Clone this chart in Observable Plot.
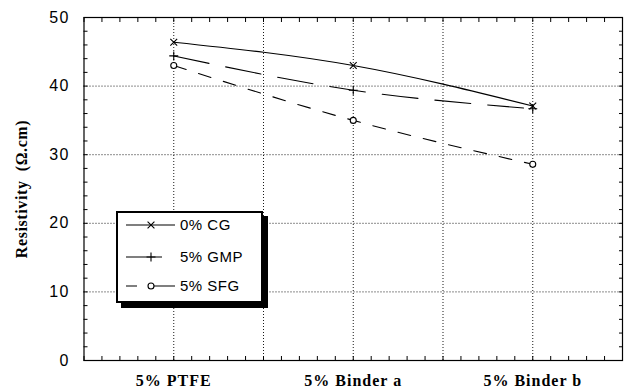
<!DOCTYPE html>
<html><head><meta charset="utf-8">
<script src="https://cdn.jsdelivr.net/npm/d3@7"></script>
<script src="https://cdn.jsdelivr.net/npm/@observablehq/plot@0.6"></script>
<style>
html,body{margin:0;padding:0;background:#fff;}
#wrap{position:relative;width:625px;height:391px;overflow:hidden;}
.legend{position:absolute;left:116px;top:211px;width:143px;height:88px;border:2px solid #000;background:#fff;box-shadow:5px 5px 0 #000;}
</style></head><body><div id="wrap"></div>
<script>
// ---- data ----
const categories = ["5% PTFE", "5% Binder a", "5% Binder b"];
const seriesNames = ["0% CG", "5% GMP", "5% SFG"];
const cgValues = [46.4, 43.0, 37.1];
const gmpValues = [44.4, 39.4, 36.7];
const sfgValues = [43.0, 35.0, 28.6];
const yTicks = [0, 10, 20, 30, 40, 50];
const yLabel = "Resistivity\u00a0\u00a0(\u03a9.cm)";

// ---- styles ----
const seriesValues = [cgValues, gmpValues, sfgValues];
const seriesSymbols = ["times", "plus", "circle"];
const seriesDash = [null, "36,17", "13,13"];
const legendDash = [null, "36,17", "11,17,21,0"];
const seriesR = [3.2, 3.0, 3.0];

const xPos = categories.map((c, i) => 2 * i + 1);
const rows = [];
seriesNames.forEach((s, k) => seriesValues[k].forEach((v, i) => rows.push({series: s, k, x: xPos[i], y: v})));

const minorX = d3.range(0, 31).map(i => i / 5);
const minorY = d3.range(0, 26).map(i => i * 2);
const gridXT = d3.range(1, 6);
const gridYT = yTicks.filter(t => t > 0 && t < 50);
const blank = () => "";

const tick = 4;
const marks = [
  Plot.gridX({ticks: gridXT, stroke: "#000", strokeOpacity: 0.9, strokeDasharray: "1,2"}),
  Plot.gridY({ticks: gridYT, stroke: "#000", strokeOpacity: 0.9, strokeDasharray: "1,2"}),
];
seriesNames.forEach((s, k) => {
  const d = rows.filter(r => r.k === k);
  marks.push(Plot.line(d, {x: "x", y: "y", curve: "natural", stroke: "#000", strokeWidth: 1.1, strokeDasharray: seriesDash[k]}));
  marks.push(Plot.dot(d, {x: "x", y: "y", symbol: seriesSymbols[k], r: seriesR[k], stroke: "#000", fill: k === 2 ? "#fff" : "none", strokeWidth: 1.1}));
});
marks.push(
  Plot.frame({stroke: "#000", strokeWidth: 1.2}),
  Plot.axisX({ticks: minorX, anchor: "bottom", tickSize: tick, dy: -tick, tickFormat: blank, label: null, stroke: "#000"}),
  Plot.axisX({ticks: minorX, anchor: "top", tickSize: tick, dy: tick, tickFormat: blank, label: null, stroke: "#000"}),
  Plot.axisY({ticks: minorY, anchor: "left", tickSize: tick, dx: tick, tickFormat: blank, label: null, stroke: "#000"}),
  Plot.axisY({ticks: minorY, anchor: "right", tickSize: tick, dx: -tick, tickFormat: blank, label: null, stroke: "#000"}),
  Plot.axisY({ticks: yTicks, anchor: "left", tickSize: 0, tickPadding: 14, label: null, fontSize: 16, fontFamily: "Liberation Sans, Arial, sans-serif", fill: "#000"}),
  Plot.axisX({ticks: xPos, anchor: "bottom", tickSize: 0, tickPadding: 14, label: null, tickFormat: d => categories[xPos.indexOf(d)], fontSize: 16, fontWeight: "bold", fontFamily: "Liberation Serif, Times New Roman, serif", fill: "#000"}),
  Plot.text([yLabel], {frameAnchor: "left", textAnchor: "middle", rotate: -90, dx: -62, fontSize: 16, fontWeight: "bold", fontFamily: "Liberation Serif, Times New Roman, serif", fill: "#000"})
);

const chart = Plot.plot({
  width: 625, height: 391,
  marginLeft: 83.5, marginRight: 3, marginTop: 17, marginBottom: 31,
  x: {domain: [0, 6], axis: null},
  y: {domain: [0, 50], axis: null},
  style: {background: "#fff", color: "#000", overflow: "visible"},
  marks
});
document.getElementById("wrap").appendChild(chart);
chart.querySelectorAll('[aria-label="y-axis tick label"] text').forEach(t => t.style.letterSpacing = "1.5px");
chart.querySelectorAll('[aria-label="x-axis tick label"] text').forEach(t => t.style.letterSpacing = "1px");
chart.querySelectorAll('[aria-label="text"] text').forEach(t => t.style.letterSpacing = "0.6px");

// ---- legend ----
const leg = document.createElement("div");
leg.className = "legend";
document.getElementById("wrap").appendChild(leg);
const ls = d3.select(leg).append("svg").attr("width", 143).attr("height", 88);
const rowY = [12, 44, 73];
seriesNames.forEach((s, k) => {
  const g = ls.append("g").attr("transform", `translate(0,${rowY[k]})`);
  g.append("line").attr("x1", 8).attr("x2", k === 1 ? 45 : 57).attr("y1", 0).attr("y2", 0)
    .attr("stroke", "#000").attr("stroke-width", 1.1).attr("stroke-dasharray", legendDash[k]);
  const sym = {times: d3.symbolTimes, plus: d3.symbolPlus, circle: d3.symbolCircle}[seriesSymbols[k]];
  const r = seriesR[k];
  g.append("path").attr("d", d3.symbol(sym, Math.PI * r * r)()).attr("transform", "translate(33,0)")
    .attr("stroke", "#000").attr("fill", k === 2 ? "#fff" : "none").attr("stroke-width", 1.1);
  g.append("text").attr("x", 62).attr("y", 0).attr("dy", "0.35em").text(s)
    .attr("font-family", "Liberation Sans, Arial, sans-serif").attr("font-size", 15).attr("letter-spacing", "0.5px");
});
</script></body></html>
